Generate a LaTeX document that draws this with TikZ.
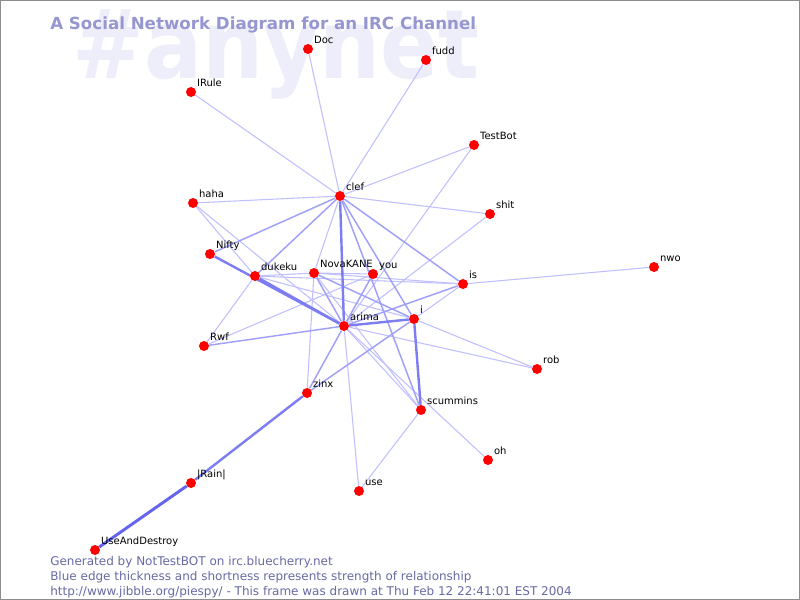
\documentclass[tikz,border=0pt]{standalone}
\usepackage{fontspec}
\setmainfont{DejaVu Sans}
\pgfdeclarelayer{back}
\pgfdeclarelayer{edges}
\pgfsetlayers{back,edges,main}
\definecolor{wmcol}{RGB}{238,238,251}
\definecolor{titlecol}{RGB}{150,150,208}
\definecolor{footcol}{RGB}{105,105,165}
\definecolor{ethin}{RGB}{192,192,255}
\definecolor{emed}{RGB}{160,160,250}
\definecolor{ethick}{RGB}{125,125,242}
\definecolor{ebold}{RGB}{100,100,238}
\tikzset{
  dot/.style={circle, fill=red, inner sep=0pt, minimum size=7.5pt},
  lbl/.style={font=\fontsize{7.5}{8}\selectfont, inner sep=0pt, anchor=base west, xshift=1.6pt, yshift=1.3pt, text=black},
  thinedge/.style={draw=ethin, line width=0.8pt},
  mededge/.style={draw=emed, line width=1.1pt},
  thickedge/.style={draw=ethick, line width=1.8pt},
  boldedge/.style={draw=ebold, line width=2.2pt},
  foot/.style={font=\fontsize{9}{10}\selectfont, text=footcol, inner sep=0pt, anchor=base west}
}
\begin{document}
\begin{tikzpicture}[x=0.75pt,y=-0.75pt]
\useasboundingbox (0,0) rectangle (800,600);
\begin{pgfonlayer}{back}
\fill[white] (0,0) rectangle (800,600);
\node[inner sep=0pt, anchor=base west, text=wmcol, font=\fontsize{72}{80}\selectfont\bfseries] (wm) at (72,78) {\scalebox{0.895}[1]{\#anynet}};
\end{pgfonlayer}
\node[inner sep=0pt, anchor=base west, text=titlecol, font=\fontsize{12.5}{14}\selectfont\bfseries] (title) at (50,29) {A Social Network Diagram for an IRC Channel};
\draw[gray!90, line width=1.5pt] (0,0) rectangle (800,600);
% nodes
\node[dot, label={[lbl]45:Doc}] (Doc) at (308,49) {};
\node[dot, label={[lbl]45:fudd}] (fudd) at (426,60) {};
\node[dot, label={[lbl]45:IRule}] (IRule) at (191,92) {};
\node[dot, label={[lbl]45:TestBot}] (TestBot) at (474,145) {};
\node[dot, label={[lbl]45:clef}] (clef) at (340,196) {};
\node[dot, label={[lbl]45:haha}] (haha) at (193,203) {};
\node[dot, label={[lbl]45:shit}] (shit) at (490,214) {};
\node[dot, label={[lbl]45:Nifty}] (Nifty) at (210,254) {};
\node[dot, label={[lbl]45:dukeku}] (dukeku) at (255,276) {};
\node[dot, label={[lbl]45:NovaKANE}] (NovaKANE) at (314,273) {};
\node[dot, label={[lbl]45:you}] (you) at (373,274) {};
\node[dot, label={[lbl]45:nwo}] (nwo) at (654,267) {};
\node[dot, label={[lbl]45:is}] (is) at (463,284) {};
\node[dot, label={[lbl]45:arima}] (arima) at (344,326) {};
\node[dot, label={[lbl]45:i}] (i) at (414,319) {};
\node[dot, label={[lbl]45:Rwf}] (Rwf) at (204,346) {};
\node[dot, label={[lbl]45:rob}] (rob) at (537,369) {};
\node[dot, label={[lbl]45:zinx}] (zinx) at (307,393) {};
\node[dot, label={[lbl]45:scummins}] (scummins) at (421,410) {};
\node[dot, label={[lbl]45:oh}] (oh) at (488,460) {};
\node[dot, label={[lbl]45:use}] (use) at (359,491) {};
\node[dot, label={[lbl]45:|Rain|}] (Rain) at (191,483) {};
\node[dot, label={[lbl]45:UseAndDestroy}] (UAD) at (95,550) {};
% edges
\begin{pgfonlayer}{edges}
\foreach \a/\b in {clef/Doc, clef/fudd, clef/IRule, clef/TestBot, clef/haha, clef/shit, clef/NovaKANE,
  TestBot/arima, shit/arima, is/nwo, is/i, dukeku/is, NovaKANE/is, NovaKANE/you, dukeku/NovaKANE,
  haha/dukeku, haha/arima, Rwf/dukeku, Rwf/you, i/rob, arima/rob, arima/oh, arima/scummins,
  NovaKANE/scummins, scummins/use, arima/use, zinx/NovaKANE, dukeku/i}
  \draw[thinedge] (\a) -- (\b);
\foreach \a/\b in {clef/Nifty, clef/dukeku, clef/i, clef/is, clef/scummins, Rwf/arima, arima/zinx,
  zinx/i, NovaKANE/i, arima/is, you/arima, NovaKANE/arima}
  \draw[mededge] (\a) -- (\b);
\foreach \a/\b in {Nifty/arima, dukeku/arima, clef/arima, arima/i, i/scummins}
  \draw[thickedge] (\a) -- (\b);
\draw[thickedge] (zinx) -- (Rain);
\draw[boldedge] (Rain) -- (UAD);
\end{pgfonlayer}
% footer
\node[foot] (f1) at (50,565) {Generated by NotTestBOT on irc.bluecherry.net};
\node[foot] (f2) at (50,580) {Blue edge thickness and shortness represents strength of relationship};
\node[foot] (f3) at (50,595) {http://www.jibble.org/piespy/ - This frame was drawn at Thu Feb 12 22:41:01 EST 2004};
\end{tikzpicture}
\end{document}
